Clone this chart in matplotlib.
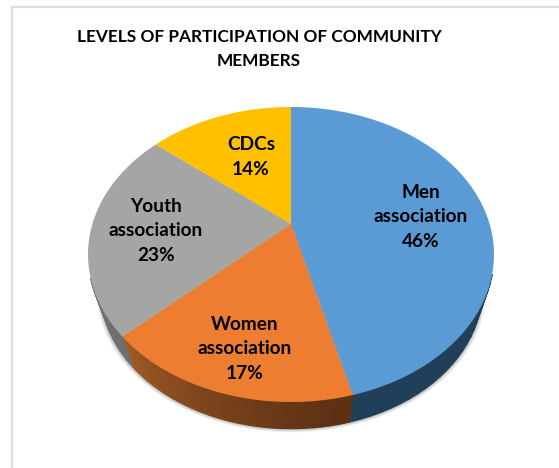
import numpy as np
import matplotlib
matplotlib.use('Agg')
import matplotlib.pyplot as plt
from matplotlib.colors import to_rgb

labels = ['Men\nassociation\n46%', 'Women\nassociation\n17%', 'Youth\nassociation\n23%', 'CDCs\n14%']
values = [46, 17, 23, 14]
top_colors = ['#5b9bd5', '#ed7d31', '#a5a5a5', '#ffc000']
side_dark = ['#223f5a', '#5c3014', '#6e6e6e', '#7f6000']
side_light = ['#223f5a', '#a05a25', '#858585', '#a07a00']
label_pos = [(421, 217), (245, 349), (156, 231), (251, 157)]
title = 'LEVELS OF PARTICIPATION OF COMMUNITY\nMEMBERS'

W, H = 559, 468
plt.rcParams['font.family'] = ['Lato', 'DejaVu Sans']

# pie is tilted, so the centre of the wedges sits above the middle of the ellipse
cx, cy = 291, 224
a, b, k = 198.6, 141.2, 0.2068
# lower rim shrinks toward a vanishing point below the pie
vx, vy, shrink = 297, 830, 0.938


def top_edge(frac):
    ang = 2 * np.pi * np.asarray(frac)
    x, y = np.sin(ang), np.cos(ang)
    w = 1 + k * y
    return cx + a * x / w, cy - b * y / w


def low_edge(frac):
    xs, ys = top_edge(frac)
    return vx + (xs - vx) * shrink, vy + (ys - vy) * shrink


def sticks_out(xb, yb):
    # is this part of the lower rim outside the top ellipse, so actually visible
    return ((xb - 291) / 203) ** 2 + ((yb - 254.5) / 147.5) ** 2 > 1


fig = plt.figure(figsize=(W / 100, H / 100), dpi=100)
ax = fig.add_axes([0, 0, 1, 1])
ax.set_xlim(0, W)
ax.set_ylim(H, 0)
ax.axis('off')

# chart frame
ax.plot([11.8, 11.8, W], [H, 6.5, 6.5], color='#dcdcdc', lw=1.6, solid_joinstyle='miter')

# soft shadow below the pie
t = np.linspace(0, 1, 400)
lx, ly = low_edge(t)
for i in range(6, 0, -1):
    ax.fill(cx + (lx - cx) * (1 + i * 0.004), 290 + (ly - 290) * (1 + i * 0.004) + 0.5,
            color='k', alpha=0.045, lw=0)

edges = np.cumsum([0] + values) / sum(values)

# side of the pie, in thin strips for the shading
for i in range(len(values)):
    fr = np.linspace(edges[i], edges[i + 1], 60)
    for f0, f1 in zip(fr[:-1], fr[1:]):
        mid = (f0 + f1) / 2
        xt, yt = top_edge([f0, f1])
        xb, yb = low_edge([f0, f1])
        if not sticks_out(xb, yb).all():
            continue
        s = np.clip((mid - edges[i]) / (edges[i + 1] - edges[i]), 0, 1) ** 1.3
        col = np.array(to_rgb(side_dark[i])) * (1 - s) + np.array(to_rgb(side_light[i])) * s
        ax.fill(list(xt) + list(xb[::-1]), list(yt) + list(yb[::-1]), color=col, lw=1.0, ec=col)

# top of the pie
for i in range(len(values)):
    fr = np.linspace(edges[i], edges[i + 1], 120)
    xs, ys = top_edge(fr)
    ax.fill(np.r_[cx, xs], np.r_[cy, ys], color=top_colors[i], lw=0)

for lab, (lx0, ly0) in zip(labels, label_pos):
    ax.text(lx0, ly0, lab, ha='center', va='center', fontsize=13.7, fontweight='bold',
            color='k', linespacing=1.55)

ax.text(259, 49, title, ha='center', va='center', fontsize=12.4, fontweight='bold',
        color='k', linespacing=1.62)

fig.savefig('out.png', dpi=100)
